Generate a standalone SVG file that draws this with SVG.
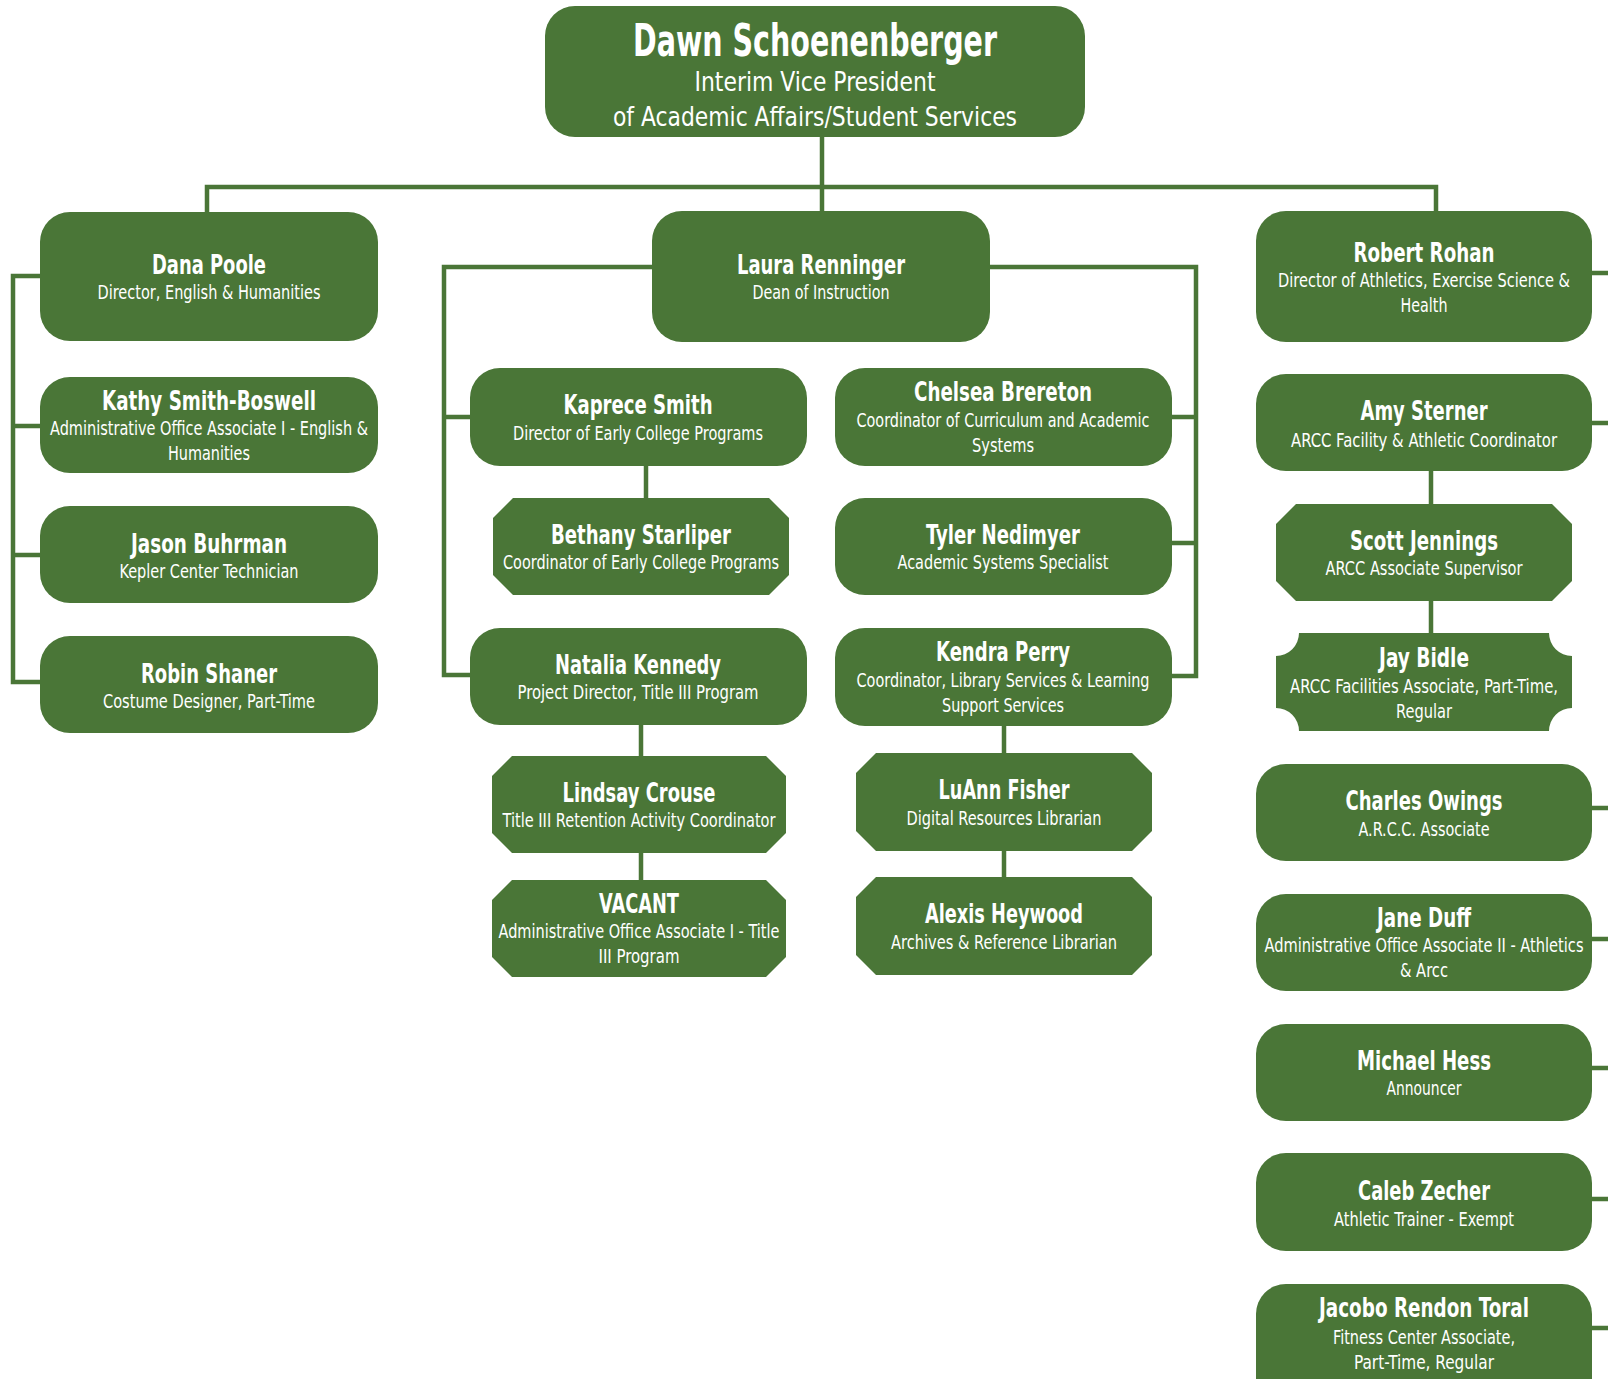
<svg xmlns="http://www.w3.org/2000/svg" width="1608" height="1379" viewBox="0 0 1608 1379">
<style>
.box{fill:#4a7637}
.ln{fill:none;stroke:#4a7637;stroke-width:4.5}
text{fill:#ffffff;text-anchor:middle;font-family:"Liberation Sans Narrow","Arial Narrow","DejaVu Sans Condensed","Liberation Sans",sans-serif;font-stretch:condensed}
.n{font-size:27px;font-weight:bold}
.s{font-size:20px}
.tn{font-size:44px;font-weight:bold}
.ts{font-size:27px}
</style>
<rect width="1608" height="1379" fill="#ffffff"/>
<g id="connectors">
<path class="ln" d="M822,137 V211"/>
<path class="ln" d="M207,212 V187 H1436 V211"/>
<path class="ln" d="M40,276 H13 V682 H40 M13,426 H40 M13,555 H40"/>
<path class="ln" d="M652,267 H444 V675 H470 M444,417 H470"/>
<path class="ln" d="M990,267 H1196 V676 H1172 M1196,417 H1172 M1196,543 H1172"/>
<path class="ln" d="M646,466 V498"/>
<path class="ln" d="M641,725 V880"/>
<path class="ln" d="M1004,726 V877"/>
<path class="ln" d="M1431,471 V633"/>
<path class="ln" d="M1592,273 H1610 M1592,423 H1610 M1592,808 H1610 M1592,939 H1610 M1592,1068 H1610 M1592,1199 H1610 M1592,1328 H1610"/>
</g>
<g id="dawn">
<rect class="box" x="545" y="6" width="540" height="131" rx="30"/>
<text class="tn" x="815" y="56" textLength="364" lengthAdjust="spacingAndGlyphs">Dawn Schoenenberger</text>
<text class="ts" x="815" y="91" textLength="241" lengthAdjust="spacingAndGlyphs">Interim Vice President</text>
<text class="ts" x="815" y="126" textLength="404" lengthAdjust="spacingAndGlyphs">of Academic Affairs/Student Services</text>
</g>
<g id="dana">
<rect class="box" x="40" y="212" width="338" height="129" rx="30"/>
<text class="n" x="209" y="274" textLength="114" lengthAdjust="spacingAndGlyphs">Dana Poole</text>
<text class="s" x="209" y="299" textLength="223" lengthAdjust="spacingAndGlyphs">Director, English &amp; Humanities</text>
</g>
<g id="kathy">
<rect class="box" x="40" y="377" width="338" height="96" rx="30"/>
<text class="n" x="209" y="410" textLength="214" lengthAdjust="spacingAndGlyphs">Kathy Smith-Boswell</text>
<text class="s" x="209" y="435" textLength="318" lengthAdjust="spacingAndGlyphs">Administrative Office Associate I - English &amp;</text>
<text class="s" x="209" y="460" textLength="82" lengthAdjust="spacingAndGlyphs">Humanities</text>
</g>
<g id="jason">
<rect class="box" x="40" y="506" width="338" height="97" rx="30"/>
<text class="n" x="209" y="553" textLength="156" lengthAdjust="spacingAndGlyphs">Jason Buhrman</text>
<text class="s" x="209" y="578" textLength="179" lengthAdjust="spacingAndGlyphs">Kepler Center Technician</text>
</g>
<g id="robin">
<rect class="box" x="40" y="636" width="338" height="97" rx="30"/>
<text class="n" x="209" y="683" textLength="136" lengthAdjust="spacingAndGlyphs">Robin Shaner</text>
<text class="s" x="209" y="708" textLength="212" lengthAdjust="spacingAndGlyphs">Costume Designer, Part-Time</text>
</g>
<g id="laura">
<rect class="box" x="652" y="211" width="338" height="131" rx="30"/>
<text class="n" x="821" y="274" textLength="168" lengthAdjust="spacingAndGlyphs">Laura Renninger</text>
<text class="s" x="821" y="299" textLength="137" lengthAdjust="spacingAndGlyphs">Dean of Instruction</text>
</g>
<g id="kaprece">
<rect class="box" x="470" y="368" width="337" height="98" rx="30"/>
<text class="n" x="638" y="414" textLength="149" lengthAdjust="spacingAndGlyphs">Kaprece Smith</text>
<text class="s" x="638" y="440" textLength="250" lengthAdjust="spacingAndGlyphs">Director of Early College Programs</text>
</g>
<g id="bethany">
<polygon class="box" points="513,498 769,498 789,518 789,575 769,595 513,595 493,575 493,518"/>
<text class="n" x="641" y="544" textLength="180" lengthAdjust="spacingAndGlyphs">Bethany Starliper</text>
<text class="s" x="641" y="569" textLength="276" lengthAdjust="spacingAndGlyphs">Coordinator of Early College Programs</text>
</g>
<g id="natalia">
<rect class="box" x="470" y="628" width="337" height="97" rx="30"/>
<text class="n" x="638" y="674" textLength="166" lengthAdjust="spacingAndGlyphs">Natalia Kennedy</text>
<text class="s" x="638" y="699" textLength="241" lengthAdjust="spacingAndGlyphs">Project Director, Title III Program</text>
</g>
<g id="lindsay">
<polygon class="box" points="512,756 766,756 786,776 786,833 766,853 512,853 492,833 492,776"/>
<text class="n" x="639" y="802" textLength="153" lengthAdjust="spacingAndGlyphs">Lindsay Crouse</text>
<text class="s" x="639" y="827" textLength="273" lengthAdjust="spacingAndGlyphs">Title III Retention Activity Coordinator</text>
</g>
<g id="vacant">
<polygon class="box" points="512,880 766,880 786,900 786,957 766,977 512,977 492,957 492,900"/>
<text class="n" x="639" y="913" textLength="80" lengthAdjust="spacingAndGlyphs">VACANT</text>
<text class="s" x="639" y="938" textLength="281" lengthAdjust="spacingAndGlyphs">Administrative Office Associate I - Title</text>
<text class="s" x="639" y="963" textLength="81" lengthAdjust="spacingAndGlyphs">III Program</text>
</g>
<g id="chelsea">
<rect class="box" x="835" y="368" width="337" height="98" rx="30"/>
<text class="n" x="1003" y="401" textLength="178" lengthAdjust="spacingAndGlyphs">Chelsea Brereton</text>
<text class="s" x="1003" y="427" textLength="293" lengthAdjust="spacingAndGlyphs">Coordinator of Curriculum and Academic</text>
<text class="s" x="1003" y="452" textLength="62" lengthAdjust="spacingAndGlyphs">Systems</text>
</g>
<g id="tyler">
<rect class="box" x="835" y="498" width="337" height="97" rx="30"/>
<text class="n" x="1003" y="544" textLength="154" lengthAdjust="spacingAndGlyphs">Tyler Nedimyer</text>
<text class="s" x="1003" y="569" textLength="211" lengthAdjust="spacingAndGlyphs">Academic Systems Specialist</text>
</g>
<g id="kendra">
<rect class="box" x="835" y="628" width="337" height="98" rx="30"/>
<text class="n" x="1003" y="661" textLength="134" lengthAdjust="spacingAndGlyphs">Kendra Perry</text>
<text class="s" x="1003" y="687" textLength="293" lengthAdjust="spacingAndGlyphs">Coordinator, Library Services &amp; Learning</text>
<text class="s" x="1003" y="712" textLength="122" lengthAdjust="spacingAndGlyphs">Support Services</text>
</g>
<g id="luann">
<polygon class="box" points="876,753 1132,753 1152,773 1152,831 1132,851 876,851 856,831 856,773"/>
<text class="n" x="1004" y="799" textLength="131" lengthAdjust="spacingAndGlyphs">LuAnn Fisher</text>
<text class="s" x="1004" y="825" textLength="195" lengthAdjust="spacingAndGlyphs">Digital Resources Librarian</text>
</g>
<g id="alexis">
<polygon class="box" points="876,877 1132,877 1152,897 1152,955 1132,975 876,975 856,955 856,897"/>
<text class="n" x="1004" y="923" textLength="158" lengthAdjust="spacingAndGlyphs">Alexis Heywood</text>
<text class="s" x="1004" y="949" textLength="226" lengthAdjust="spacingAndGlyphs">Archives &amp; Reference Librarian</text>
</g>
<g id="robert">
<rect class="box" x="1256" y="211" width="336" height="131" rx="30"/>
<text class="n" x="1424" y="262" textLength="141" lengthAdjust="spacingAndGlyphs">Robert Rohan</text>
<text class="s" x="1424" y="287" textLength="292" lengthAdjust="spacingAndGlyphs">Director of Athletics, Exercise Science &amp;</text>
<text class="s" x="1424" y="312" textLength="47" lengthAdjust="spacingAndGlyphs">Health</text>
</g>
<g id="amy">
<rect class="box" x="1256" y="374" width="336" height="97" rx="30"/>
<text class="n" x="1424" y="420" textLength="127" lengthAdjust="spacingAndGlyphs">Amy Sterner</text>
<text class="s" x="1424" y="447" textLength="266" lengthAdjust="spacingAndGlyphs">ARCC Facility &amp; Athletic Coordinator</text>
</g>
<g id="scott">
<polygon class="box" points="1296,504 1552,504 1572,524 1572,581 1552,601 1296,601 1276,581 1276,524"/>
<text class="n" x="1424" y="550" textLength="148" lengthAdjust="spacingAndGlyphs">Scott Jennings</text>
<text class="s" x="1424" y="575" textLength="197" lengthAdjust="spacingAndGlyphs">ARCC Associate Supervisor</text>
</g>
<g id="jay">
<path class="box" d="M1299,633 H1549 A23,23 0 0 0 1572,656 V708 A23,23 0 0 0 1549,731 H1299 A23,23 0 0 0 1276,708 V656 A23,23 0 0 0 1299,633 Z"/>
<text class="n" x="1424" y="667" textLength="90" lengthAdjust="spacingAndGlyphs">Jay Bidle</text>
<text class="s" x="1424" y="693" textLength="268" lengthAdjust="spacingAndGlyphs">ARCC Facilities Associate, Part-Time,</text>
<text class="s" x="1424" y="718" textLength="56" lengthAdjust="spacingAndGlyphs">Regular</text>
</g>
<g id="charles">
<rect class="box" x="1256" y="764" width="336" height="97" rx="30"/>
<text class="n" x="1424" y="810" textLength="157" lengthAdjust="spacingAndGlyphs">Charles Owings</text>
<text class="s" x="1424" y="836" textLength="131" lengthAdjust="spacingAndGlyphs">A.R.C.C. Associate</text>
</g>
<g id="jane">
<rect class="box" x="1256" y="894" width="336" height="97" rx="30"/>
<text class="n" x="1424" y="927" textLength="94" lengthAdjust="spacingAndGlyphs">Jane Duff</text>
<text class="s" x="1424" y="952" textLength="319" lengthAdjust="spacingAndGlyphs">Administrative Office Associate II - Athletics</text>
<text class="s" x="1424" y="977" textLength="48" lengthAdjust="spacingAndGlyphs">&amp; Arcc</text>
</g>
<g id="michael">
<rect class="box" x="1256" y="1024" width="336" height="97" rx="30"/>
<text class="n" x="1424" y="1070" textLength="134" lengthAdjust="spacingAndGlyphs">Michael Hess</text>
<text class="s" x="1424" y="1095" textLength="75" lengthAdjust="spacingAndGlyphs">Announcer</text>
</g>
<g id="caleb">
<rect class="box" x="1256" y="1153" width="336" height="98" rx="30"/>
<text class="n" x="1424" y="1200" textLength="132" lengthAdjust="spacingAndGlyphs">Caleb Zecher</text>
<text class="s" x="1424" y="1226" textLength="180" lengthAdjust="spacingAndGlyphs">Athletic Trainer - Exempt</text>
</g>
<g id="jacobo">
<rect class="box" x="1256" y="1284" width="336" height="130" rx="30"/>
<text class="n" x="1424" y="1317" textLength="210" lengthAdjust="spacingAndGlyphs">Jacobo Rendon Toral</text>
<text class="s" x="1424" y="1344" textLength="182" lengthAdjust="spacingAndGlyphs">Fitness Center Associate,</text>
<text class="s" x="1424" y="1369" textLength="140" lengthAdjust="spacingAndGlyphs">Part-Time, Regular</text>
</g>
</svg>
